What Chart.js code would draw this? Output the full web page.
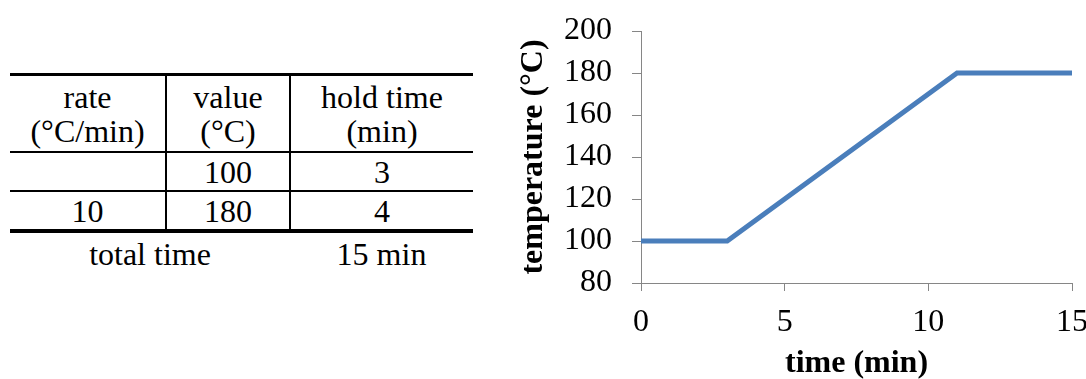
<!DOCTYPE html>
<html>
<head>
<meta charset="utf-8">
<script src="https://cdn.jsdelivr.net/npm/chart.js@4"></script>
<style>
  html, body { margin: 0; padding: 0; background: #fff; width: 1086px; height: 379px; overflow: hidden; }
  body { position: relative; font-family: "Liberation Serif", "Times New Roman", serif; color: #000; }
  #tbl { position: absolute; left: 10px; top: 73px; width: 463px; border-collapse: collapse; font-size: 32px; }
  #tbl td { padding: 0; text-align: center; line-height: 34px; }
  #tbl tr.head td { height: 75px; border-top: 3px solid #000; border-bottom: 2px solid #000; }
  #tbl tr.row td { height: 37px; border-bottom: 2px solid #000; }
  #tbl tr.row.last td { border-bottom: 4px solid #000; }
  #tbl tr.head td + td, #tbl tr.row td + td { border-left: 2px solid #000; }
  #tbl tr.total td { height: 42px; }
  #wrap { position: absolute; left: 500px; top: 0; width: 620px; height: 379px; }
</style>
</head>
<body>
<table id="tbl"></table>
<div id="wrap"><canvas id="c"></canvas></div>
<script>
// table of the temperature programme
const headers = ['rate<br>(°C/min)', 'value<br>(°C)', 'hold time<br>(min)'];
const rates   = ['', '10'];
const values  = ['100', '180'];
const holds   = ['3', '4'];
const totalLabel = 'total time';
const totalValue = '15 min';

// line data
const times = [0, 3, 11, 15];
const temps = [100, 100, 180, 180];
const xTicks = [0, 5, 10, 15];
const yTicks = [80, 100, 120, 140, 160, 180, 200];

const tbl = document.getElementById('tbl');
let html = '<colgroup><col style="width:156px"><col style="width:124px"><col style="width:183px"></colgroup>';
html += '<tr class="head">' + headers.map(h => '<td>' + h + '</td>').join('') + '</tr>';
rates.forEach((r, i) => {
  html += '<tr class="row' + (i === rates.length - 1 ? ' last' : '') + '"><td>' + r + '</td><td>' + values[i] + '</td><td>' + holds[i] + '</td></tr>';
});
html += '<tr class="total"><td colspan="2">' + totalLabel + '</td><td>' + totalValue + '</td></tr>';
tbl.innerHTML = html;

const FONT = "'Liberation Serif', 'Times New Roman', serif";
const AXIS = '#868686';

new Chart(document.getElementById('c'), {
  type: 'line',
  data: {
    datasets: [{
      data: times.map((t, i) => ({ x: t, y: temps[i] })),
      borderColor: '#4a7ebb',
      borderWidth: 5,
      borderCapStyle: 'round',
      borderJoinStyle: 'miter',
      pointRadius: 0,
      tension: 0,
      fill: false
    }]
  },
  options: {
    responsive: true,
    maintainAspectRatio: false,
    animation: false,
    layout: { padding: { top: 31, right: 48, left: 0, bottom: 0 } },
    plugins: { legend: { display: false }, tooltip: { enabled: false } },
    scales: {
      x: {
        type: 'linear',
        min: 0, max: 15,
        afterBuildTicks: s => { s.ticks = xTicks.map(v => ({ value: v })); },
        afterFit: s => { s.height = 96; s.paddingLeft = 0; s.paddingRight = 0; },
        grid: { drawOnChartArea: false, drawTicks: true, tickLength: 8, color: AXIS },
        border: { color: AXIS, width: 1 },
        ticks: { color: '#000', font: { family: FONT, size: 32 }, padding: 12, maxRotation: 0, autoSkip: false },
        title: { display: true, text: 'time (min)', color: '#000', font: { family: FONT, size: 32, weight: 'bold' }, padding: { top: 0, bottom: -4 } }
      },
      y: {
        min: 80, max: 200,
        afterBuildTicks: s => { s.ticks = yTicks.map(v => ({ value: v })); },
        afterFit: s => { s.width = 141; s.paddingTop = 0; s.paddingBottom = 0; },
        grid: { drawOnChartArea: false, drawTicks: true, tickLength: 9, color: AXIS },
        border: { color: AXIS, width: 1 },
        ticks: { color: '#000', font: { family: FONT, size: 32 }, padding: 20, autoSkip: false },
        title: { display: true, text: 'temperature (°C)', color: '#000', font: { family: FONT, size: 32, weight: 'bold' }, padding: { top: 15, bottom: 0 } }
      }
    }
  }
});
</script>
</body>
</html>
